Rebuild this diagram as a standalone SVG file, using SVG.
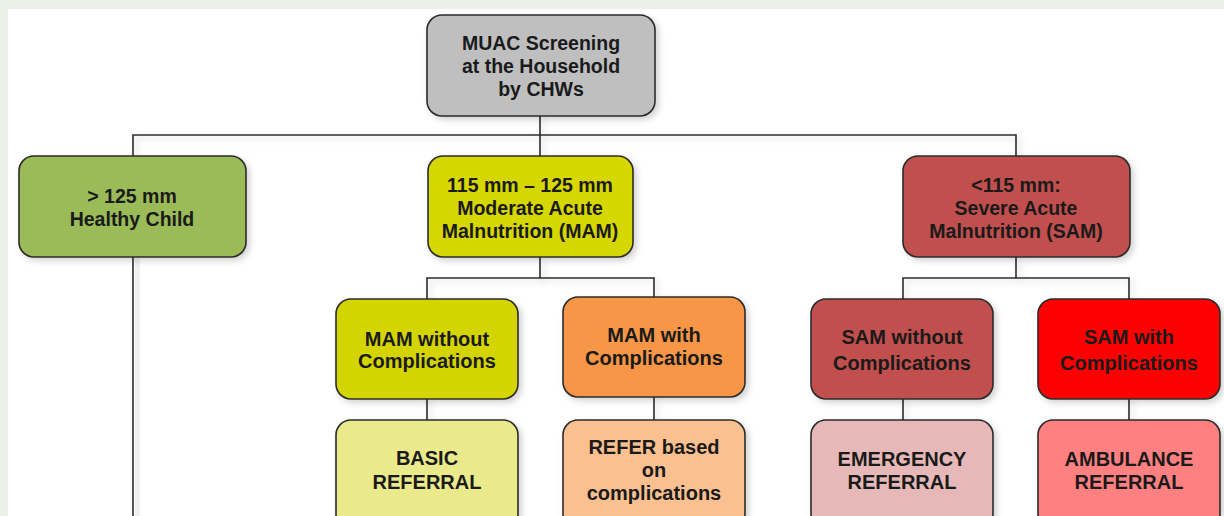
<svg xmlns="http://www.w3.org/2000/svg" width="1224" height="516" viewBox="0 0 1224 516">
<defs>
<filter id="sh" x="-10%" y="-10%" width="130%" height="130%">
<feDropShadow dx="3" dy="3" stdDeviation="3" flood-color="#000" flood-opacity="0.18"/>
</filter>
</defs>
<style>
.box{stroke:#2b2b2b;stroke-width:1.6;filter:url(#sh)}
.t{font-family:"Liberation Sans",Arial,sans-serif;font-weight:bold;font-size:20px;fill:#1a1a1a;text-anchor:middle}
.n{font-size:19.5px}
.c{fill:none;stroke:#2b2b2b;stroke-width:1.6;filter:url(#sh)}
.p{fill:none;stroke:#2b2b2b;stroke-width:1.6}
</style>
<rect x="0" y="0" width="1224" height="516" fill="#ffffff"/>
<rect x="0" y="0" width="1224" height="9" fill="#ECEEE8"/>
<rect x="0" y="0" width="8" height="516" fill="#ECEEE8"/>
<g id="connectors">
<path class="c" d="M540,116 V135 M133,157 V135 H1016 V157 M540,135 V157"/>
<rect x="135" y="258" width="5" height="260" fill="#000" opacity="0.06"/>
<path class="p" d="M133,257 V520"/>
<path class="c" d="M540,257 V278 M427,299 V278 H654 V297"/>
<path class="c" d="M1016,257 V278 M903,299 V278 H1129 V299"/>
<path class="c" d="M427,399 V420 M654,397 V420 M903,399 V420 M1129,399 V420"/>
</g>
<g id="root">
<rect class="box" x="427" y="15" width="228" height="101" rx="15" fill="#BFBFBF"/>
<text class="t n" x="541" y="50">MUAC Screening</text>
<text class="t n" x="541" y="73">at the Household</text>
<text class="t n" x="541" y="96">by CHWs</text>
</g>
<g id="healthy">
<rect class="box" x="19" y="156" width="227" height="101" rx="15" fill="#9BBB59"/>
<text class="t n" x="132" y="203">&gt; 125 mm</text>
<text class="t n" x="132" y="226">Healthy Child</text>
</g>
<g id="mam">
<rect class="box" x="428" y="156" width="205" height="101" rx="15" fill="#D6D600"/>
<text class="t n" x="530" y="192">115 mm – 125 mm</text>
<text class="t n" x="530" y="215">Moderate Acute</text>
<text class="t n" x="530" y="238">Malnutrition (MAM)</text>
</g>
<g id="sam">
<rect class="box" x="903" y="156" width="227" height="101" rx="15" fill="#C0504D"/>
<text class="t n" x="1016" y="192">&lt;115 mm:</text>
<text class="t n" x="1016" y="215">Severe Acute</text>
<text class="t n" x="1016" y="238">Malnutrition (SAM)</text>
</g>
<g id="mam-without">
<rect class="box" x="336" y="299" width="182" height="100" rx="15" fill="#D4D400"/>
<text class="t" x="427" y="346">MAM without</text>
<text class="t" x="427" y="368">Complications</text>
</g>
<g id="mam-with">
<rect class="box" x="563" y="297" width="182" height="100" rx="15" fill="#F79646"/>
<text class="t" x="654" y="342">MAM with</text>
<text class="t" x="654" y="365">Complications</text>
</g>
<g id="sam-without">
<rect class="box" x="811" y="299" width="182" height="100" rx="15" fill="#C0504D"/>
<text class="t" x="902" y="344">SAM without</text>
<text class="t" x="902" y="370">Complications</text>
</g>
<g id="sam-with">
<rect class="box" x="1038" y="299" width="182" height="100" rx="15" fill="#FF0000"/>
<text class="t" x="1129" y="344">SAM with</text>
<text class="t" x="1129" y="370">Complications</text>
</g>
<g id="basic">
<rect class="box" x="336" y="420" width="182" height="110" rx="15" fill="#EAEA8C"/>
<text class="t" x="427" y="465">BASIC</text>
<text class="t" x="427" y="489">REFERRAL</text>
</g>
<g id="refer">
<rect class="box" x="563" y="420" width="182" height="110" rx="15" fill="#FAC090"/>
<text class="t" x="654" y="454">REFER based</text>
<text class="t" x="654" y="477">on</text>
<text class="t" x="654" y="500">complications</text>
</g>
<g id="emergency">
<rect class="box" x="811" y="420" width="182" height="110" rx="15" fill="#E6B9B8"/>
<text class="t" x="902" y="466">EMERGENCY</text>
<text class="t" x="902" y="489">REFERRAL</text>
</g>
<g id="ambulance">
<rect class="box" x="1038" y="420" width="182" height="110" rx="15" fill="#FF8080"/>
<text class="t" x="1129" y="466">AMBULANCE</text>
<text class="t" x="1129" y="489">REFERRAL</text>
</g>
</svg>
